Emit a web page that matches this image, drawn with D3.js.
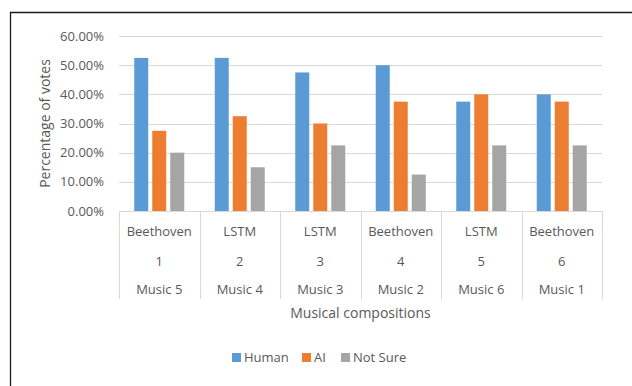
<!DOCTYPE html>
<html>
<head>
<meta charset="utf-8">
<script src="https://cdn.jsdelivr.net/npm/d3@7"></script>
<style>
  body { margin: 0; background: #fff; }
  text { font-family: "Open Sans", sans-serif; fill: #595959; }
</style>
</head>
<body>
<div id="chart"></div>
<script>
var width  = 632;
var height = 386;

// Chart data
var sources = ["Beethoven", "LSTM", "LSTM", "Beethoven", "LSTM", "Beethoven"];
var numbers = ["1", "2", "3", "4", "5", "6"];
var musics  = ["Music 5", "Music 4", "Music 3", "Music 2", "Music 6", "Music 1"];
var series  = ["Human", "AI", "Not Sure"];
var human   = [52.5, 52.5, 47.5, 50, 37.5, 40];
var ai      = [27.5, 32.5, 30, 37.5, 40, 37.5];
var notSure = [20, 15, 22.5, 12.5, 22.5, 22.5];
var yTicks  = [0, 10, 20, 30, 40, 50, 60];

var colors = { "Human": "#5B9BD5", "AI": "#ED7D31", "Not Sure": "#A5A5A5" };
var values = { "Human": human, "AI": ai, "Not Sure": notSure };

// Plot area
var m = { left: 119, right: 602, top: 36, bottom: 211 };

var svg = d3.select("#chart").append("svg")
    .attr("width", width)
    .attr("height", height);

// outer frame (only left and top edges show in the crop)
svg.append("path")
   .attr("d", "M10.5," + height + "V12.5H" + width)
   .attr("fill", "none")
   .attr("stroke", "#1a1a1a")
   .attr("stroke-width", 1.3);

var x0 = d3.scaleBand()
    .domain(d3.range(sources.length))
    .range([m.left, m.right]);

var x1 = d3.scaleBand()
    .domain(series)
    .range([15.25, x0.bandwidth() - 15.25])
    .paddingInner(4 / 18);

var y = d3.scaleLinear()
    .domain([0, 60])
    .range([m.bottom, m.top]);

// gridlines
svg.append("g").selectAll("line")
   .data(yTicks)
   .enter().append("line")
   .attr("x1", m.left).attr("x2", m.right)
   .attr("y1", function(d) { return Math.round(y(d)) + 0.5; })
   .attr("y2", function(d) { return Math.round(y(d)) + 0.5; })
   .attr("stroke", "#D9D9D9")
   .attr("stroke-width", 1);

// y tick labels
svg.append("g").selectAll("text")
   .data(yTicks)
   .enter().append("text")
   .attr("x", 104)
   .attr("y", function(d) { return y(d); })
   .attr("dy", "0.35em")
   .attr("text-anchor", "end")
   .style("font-size", "13px")
   .text(function(d) { return d.toFixed(2) + "%"; });

// bars
var groups = svg.append("g").selectAll("g")
   .data(d3.range(sources.length))
   .enter().append("g")
   .attr("transform", function(i) { return "translate(" + x0(i) + ",0)"; });

groups.selectAll("rect")
   .data(function(i) { return series.map(function(s) { return { s: s, v: values[s][i] }; }); })
   .enter().append("rect")
   .attr("x", function(d) { return x1(d.s); })
   .attr("width", x1.bandwidth())
   .attr("y", function(d) { return y(d.v); })
   .attr("height", function(d) { return y(0) - y(d.v); })
   .attr("fill", function(d) { return colors[d.s]; });

// category separators for the multi-level axis
var bounds = d3.range(sources.length + 1).map(function(i) {
  return i < sources.length ? x0(i) : x0(i - 1) + x0.bandwidth();
});
svg.append("g").selectAll("line")
   .data(bounds)
   .enter().append("line")
   .attr("x1", function(d) { return Math.round(d) + 0.5; })
   .attr("x2", function(d) { return Math.round(d) + 0.5; })
   .attr("y1", m.bottom)
   .attr("y2", 299)
   .attr("stroke", "#D9D9D9");

// category labels, three rows
var rows = [[sources, 236], [numbers, 266], [musics, 294]];
rows.forEach(function(r) {
  svg.append("g").selectAll("text")
     .data(r[0])
     .enter().append("text")
     .attr("x", function(d, i) { return x0(i) + x0.bandwidth() / 2; })
     .attr("y", r[1])
     .attr("text-anchor", "middle")
     .style("font-size", "13px")
     .text(function(d) { return d; });
});

// axis titles
svg.append("text")
   .attr("x", (m.left + m.right) / 2)
   .attr("y", 318)
   .attr("text-anchor", "middle")
   .style("font-size", "14px")
   .text("Musical compositions");

svg.append("text")
   .attr("transform", "translate(50," + ((m.top + m.bottom) / 2) + ")rotate(-90)")
   .attr("text-anchor", "middle")
   .style("font-size", "14px")
   .text("Percentage of votes");

// legend
var legendX = [232, 302, 341];
var legend = svg.append("g").selectAll("g")
   .data(series)
   .enter().append("g")
   .attr("transform", function(d, i) { return "translate(" + legendX[i] + ",353)"; });

legend.append("rect")
   .attr("width", 9).attr("height", 9)
   .attr("fill", function(d) { return colors[d]; });

legend.append("text")
   .attr("x", 12)
   .attr("y", 4.5)
   .attr("dy", "0.35em")
   .style("font-size", "13px")
   .text(function(d) { return d; });
</script>
</body>
</html>
